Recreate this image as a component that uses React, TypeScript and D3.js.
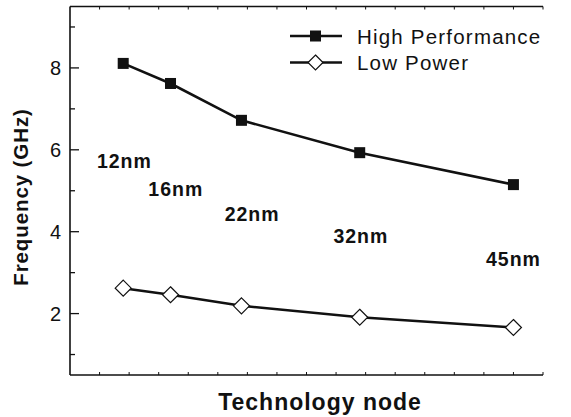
import React from "react";
import * as d3 from "d3";

// Technology nodes (nm) and measured frequencies (GHz)
const nodes = [12, 16, 22, 32, 45];
const nodeLabels = ["12nm", "16nm", "22nm", "32nm", "45nm"];
const highPerformance = [8.11, 7.62, 6.72, 5.93, 5.15];
const lowPower = [2.62, 2.46, 2.19, 1.91, 1.66];

// Where each node's name is placed (x in nm, y in GHz)
const labelNm = [12.1, 16.45, 22.9, 32.1, 45.0];
const labelGHz = [5.55, 4.88, 4.26, 3.73, 3.17];

const yMajorTicks = [2, 4, 6, 8];
const yMinorTicks = [1, 3, 5, 7, 9];

const seriesNames = ["High Performance", "Low Power"];

const W = 571;
const H = 417;
const M = { left: 70, right: 543, top: 6.5, bottom: 375 };

export default function App() {
  const x = d3.scaleLinear().domain([7.5, 47.5]).range([M.left, M.right]);
  const y = d3.scaleLinear().domain([0.5, 9.5]).range([M.bottom, M.top]);
  const xTicks = d3.range(10, 47.5 + 0.01, 2.5);

  const line = d3
    .line<number>()
    .x((_, i) => x(nodes[i]))
    .y((d) => y(d));

  const diamond = (cx: number, cy: number, r: number) =>
    `M${cx},${cy - r}L${cx + r},${cy}L${cx},${cy + r}L${cx - r},${cy}Z`;

  const font = "'Liberation Sans', Arial, Helvetica, sans-serif";
  const ink = "#111";

  return (
    <svg
      width={W}
      height={H}
      viewBox={`0 0 ${W} ${H}`}
      style={{ position: "absolute", left: 0, top: 0, background: "#fff" }}
      fontFamily={font}
    >
      {/* frame: left, top and bottom axes */}
      <g stroke={ink} strokeWidth={1.6} fill="none">
        <line x1={M.left} y1={M.top} x2={M.left} y2={M.bottom} />
        <line x1={M.left} y1={M.top} x2={M.right} y2={M.top} />
        <line x1={M.left} y1={M.bottom} x2={M.right} y2={M.bottom} />
      </g>

      {/* x ticks (inward, top and bottom) */}
      <g stroke={ink} strokeWidth={1}>
        {xTicks.map((t) => (
          <g key={t}>
            <line x1={x(t)} x2={x(t)} y1={M.bottom} y2={M.bottom - 3} />
            <line x1={x(t)} x2={x(t)} y1={M.top} y2={M.top + 3} />
          </g>
        ))}
      </g>

      {/* y ticks */}
      <g stroke={ink} strokeWidth={1.3}>
        {yMajorTicks.map((t) => (
          <line key={t} x1={M.left} x2={M.left + 9} y1={y(t)} y2={y(t)} />
        ))}
        {yMinorTicks.map((t) => (
          <line key={t} x1={M.left} x2={M.left + 5} y1={y(t)} y2={y(t)} />
        ))}
      </g>
      <g fontSize={20} fill={ink} textAnchor="end">
        {yMajorTicks.map((t) => (
          <text key={t} x={61} y={y(t)} dy="0.36em">
            {t}
          </text>
        ))}
      </g>

      {/* axis titles */}
      <text
        transform={`translate(28,${197}) rotate(-90)`}
        textAnchor="middle"
        fontWeight="bold"
        fontSize={20.5}
        letterSpacing={0.9}
        fill={ink}
      >
        Frequency (GHz)
      </text>
      <text
        x={320}
        y={410}
        textAnchor="middle"
        fontWeight="bold"
        fontSize={23}
        letterSpacing={1}
        fill={ink}
      >
        Technology node
      </text>

      {/* node names */}
      <g fontWeight="bold" fontSize={19.5} letterSpacing={1} fill={ink} textAnchor="middle">
        {nodeLabels.map((l, i) => (
          <text key={l} x={x(labelNm[i])} y={y(labelGHz[i])}>
            {l}
          </text>
        ))}
      </g>

      {/* series lines */}
      <path d={line(highPerformance) ?? ""} fill="none" stroke={ink} strokeWidth={2.6} />
      <path d={line(lowPower) ?? ""} fill="none" stroke={ink} strokeWidth={2.6} />

      {/* markers */}
      {highPerformance.map((v, i) => (
        <rect
          key={i}
          x={x(nodes[i]) - 5.5}
          y={y(v) - 5.5}
          width={11}
          height={11}
          fill={ink}
        />
      ))}
      {lowPower.map((v, i) => (
        <path
          key={i}
          d={diamond(x(nodes[i]), y(v), 8)}
          fill="#fff"
          stroke={ink}
          strokeWidth={1.2}
        />
      ))}

      {/* legend */}
      <g>
        <line x1={290} x2={342} y1={36} y2={36} stroke={ink} strokeWidth={2.6} />
        <rect x={310} y={30.5} width={11} height={11} fill={ink} />
        <line x1={290} x2={342} y1={62.5} y2={62.5} stroke={ink} strokeWidth={2.6} />
        <path d={diamond(315.5, 62.5, 7.5)} fill="#fff" stroke={ink} strokeWidth={1.2} />
        <g fontSize={20.5} letterSpacing={1.2} fill={ink}>
          <text x={357} y={43.5}>{seriesNames[0]}</text>
          <text x={357} y={69.5}>{seriesNames[1]}</text>
        </g>
      </g>
    </svg>
  );
}
